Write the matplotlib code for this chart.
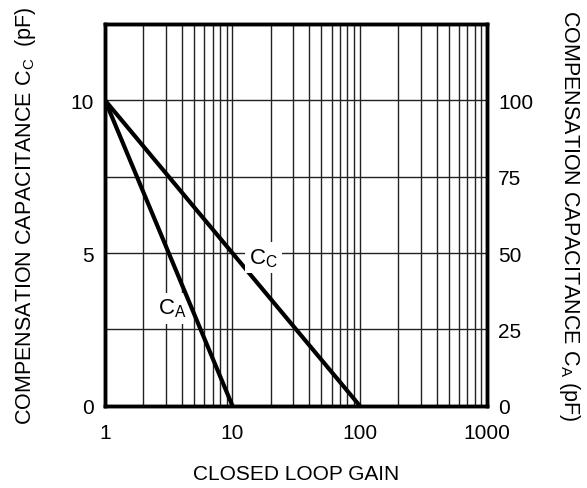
import matplotlib
matplotlib.use("Agg")
import matplotlib.pyplot as plt
import numpy as np

plt.rcParams['font.family'] = ['Liberation Sans', 'DejaVu Sans']
plt.rcParams['mathtext.fontset'] = 'custom'
plt.rcParams['mathtext.rm'] = 'Liberation Sans'

# closed loop gain vs compensation capacitance
gain_cc = [1, 100]
cc_pf = [10, 0]
gain_ca = [1, 10]
ca_pf = [100, 0]

left_ticks = [0, 5, 10]
right_ticks = [0, 25, 50, 75, 100]
x_ticks = [1, 10, 100, 1000]

fig = plt.figure(figsize=(5.87, 4.89), dpi=100)
ax = fig.add_axes([0.179, 0.168, 0.651, 0.781])
ax.set_xscale("log")
ax.set_xlim(1, 1000)
ax.set_ylim(0, 12.5)

# grid
for dec in [1, 10, 100]:
    for m in range(2, 10):
        ax.axvline(dec * m, color="#222222", lw=1.0, zorder=1)
    if dec > 1:
        ax.axvline(dec, color="#222222", lw=1.0, zorder=1)
for y in [2.5, 5, 7.5, 10]:
    ax.axhline(y, color="#222222", lw=1.0, zorder=1)

ax.plot(gain_cc, cc_pf, color="black", lw=3, zorder=3, solid_capstyle="butt")
ax2 = ax.twinx()
ax2.set_ylim(0, 125)
ax2.plot(gain_ca, ca_pf, color="black", lw=3, zorder=3, solid_capstyle="butt")

ax.text(17.5, 4.85, "C$_\\mathregular{C}$", fontsize=16, ha="center", va="center",
        bbox=dict(facecolor="white", edgecolor="none", pad=3), zorder=4)
ax.text(3.4, 3.2, "C$_\\mathregular{A}$", fontsize=16, ha="center", va="center",
        bbox=dict(facecolor="white", edgecolor="none", pad=3), zorder=4)

ax.set_xticks(x_ticks)
ax.set_xticklabels([str(t) for t in x_ticks])
ax.xaxis.set_minor_locator(matplotlib.ticker.NullLocator())
ax.set_yticks(left_ticks)
ax2.set_yticks(right_ticks)
ax.tick_params(axis="x", length=0, pad=12, labelsize=15)
ax.tick_params(axis="y", length=0, pad=8, labelsize=15)
ax2.tick_params(length=0, pad=8, labelsize=15)

for a in (ax, ax2):
    for s in a.spines.values():
        s.set_linewidth(2.5)

ax.set_xlabel("CLOSED LOOP GAIN", fontsize=15, va="center")
ax.set_ylabel("COMPENSATION CAPACITANCE C$_\\mathregular{C}$  (pF)", fontsize=15.5, va="center")
ax2.set_ylabel("COMPENSATION CAPACITANCE C$_\\mathregular{A}$ (pF)", fontsize=15.5,
               rotation=-90, va="center")
ax.xaxis.set_label_coords(0.5, -0.178)
ax.yaxis.set_label_coords(-0.209, 0.5)
ax2.yaxis.set_label_coords(1.215, 0.5)

fig.savefig("out.png", dpi=100)
